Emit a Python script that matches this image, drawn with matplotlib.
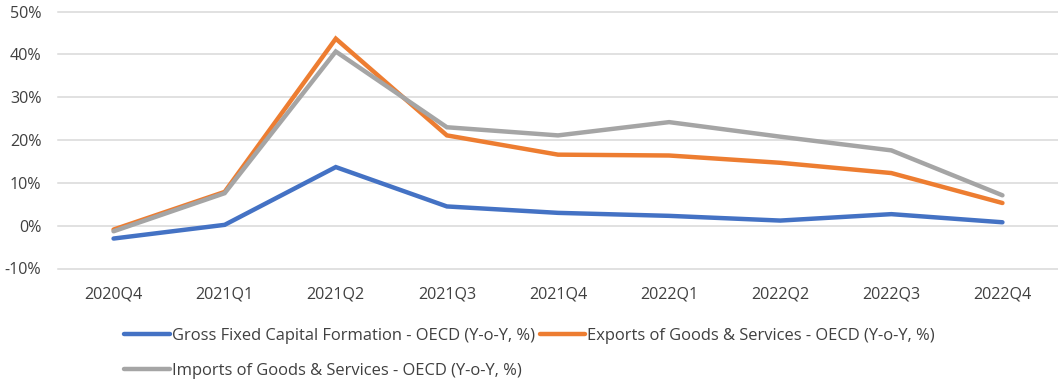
import matplotlib
matplotlib.use("Agg")
import matplotlib.pyplot as plt
from matplotlib.ticker import FuncFormatter

plt.rcParams['font.family'] = ['Open Sans', 'DejaVu Sans']

categories = ["2020Q4", "2021Q1", "2021Q2", "2021Q3", "2021Q4",
              "2022Q1", "2022Q2", "2022Q3", "2022Q4"]
gfcf = [-3.0, 0.2, 13.7, 4.5, 3.0, 2.3, 1.2, 2.7, 0.8]
exports = [-0.9, 7.9, 43.7, 21.1, 16.6, 16.4, 14.7, 12.3, 5.3]
imports = [-1.3, 7.6, 40.7, 23.0, 21.1, 24.2, 20.8, 17.6, 7.1]
labels = ["Gross Fixed Capital Formation - OECD (Y-o-Y, %)",
          "Exports of Goods & Services - OECD (Y-o-Y, %)",
          "Imports of Goods & Services - OECD (Y-o-Y, %)"]
colors = ["#4472C4", "#ED7D31", "#A5A5A5"]

fig = plt.figure(figsize=(10.58, 3.84), dpi=100)
ax = fig.add_axes([58/1058, 1-268.5/384, 1000/1058, (268.5-11.7)/384])

x = list(range(len(categories)))
h = []
for ser, lab, c in zip([gfcf, exports, imports], labels, colors):
    ln, = ax.plot(x, ser, color=c, lw=3.2, label=lab, solid_capstyle='round',
                  solid_joinstyle='miter', zorder=3)
    h.append(ln)

ax.set_xlim(-0.5, len(categories) - 0.5)
ax.set_ylim(-10, 50)
ax.set_yticks(range(-10, 51, 10))
ax.yaxis.set_major_formatter(FuncFormatter(lambda v, p: f"{int(v)}%"))
ax.set_xticks(x)
ax.set_xticklabels(categories)
ax.grid(axis='y', color='#D9D9D9', lw=1.1)
for gl in ax.get_ygridlines():
    gl.set_clip_on(False)
ax.set_axisbelow(True)
for s in ax.spines.values():
    s.set_visible(False)
ax.tick_params(length=0, labelsize=11.6, colors='#404040')
ax.tick_params(axis='y', pad=12)
ax.tick_params(axis='x', pad=13)

leg = fig.legend([h[0], h[2], h[1]], [labels[0], labels[2], labels[1]],
                 ncol=2, loc='upper left', bbox_to_anchor=(116/1058, 1-320/384),
                 frameon=False, fontsize=11.9, handlelength=2.75, handletextpad=0.12,
                 columnspacing=0.3, labelspacing=1.12, borderpad=0)
for t in leg.get_texts():
    t.set_color('#404040')

fig.savefig("out.png", dpi=100)
